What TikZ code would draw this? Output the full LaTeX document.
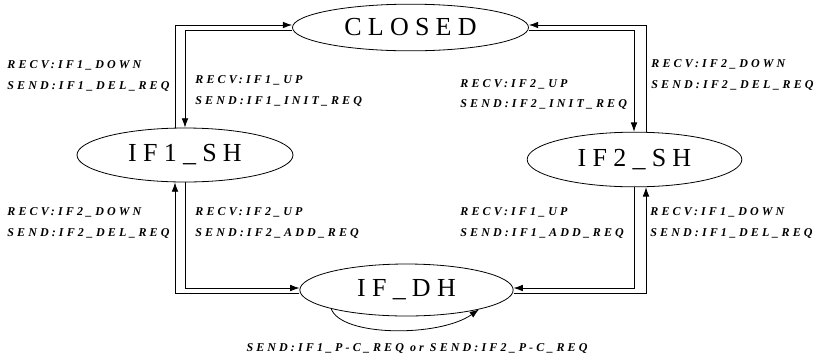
\documentclass[tikz,border=0pt]{standalone}
\usepackage{fontspec}
\setmainfont{Liberation Serif}
\newfontfamily\statefont[LetterSpace=24]{Liberation Serif}
\newfontfamily\msgfont[LetterSpace=26]{Liberation Serif}
\usetikzlibrary{shapes.geometric,arrows.meta}

\tikzstyle{state} = [draw,ellipse,inner sep=0pt,line width=0.6pt,font=\statefont\fontsize{19.5}{20}\selectfont]
\tikzstyle{msg} = [inner sep=0pt,align=left,anchor=west,font=\msgfont\bfseries\itshape\fontsize{9}{15.2}\selectfont]

\begin{document}
\begin{tikzpicture}[x=0.75pt,y=-0.75pt,>={Latex[length=7pt,width=5pt]},line width=0.6pt]
\useasboundingbox (0,0) rectangle (816,358);
\node[state,minimum width=177pt,minimum height=35pt] at (410.5,27.5) (closed) {CLOSED};
\node[state,minimum width=162pt,minimum height=40.5pt] at (185,155) (sh1) {IF1\_SH};
\node[state,minimum width=161pt,minimum height=41pt] at (634.5,159.5) (sh2) {IF2\_SH};
\node[state,minimum width=160pt,minimum height=39pt] at (406.5,290) (dh) {IF\_DH};
\coordinate (a1) at (175,25);
\coordinate (a2) at (185,30);
\coordinate (b1) at (646,25);
\coordinate (b2) at (634,30);
\coordinate (c1) at (175,293);
\coordinate (c2) at (185,288);
\coordinate (d1) at (646,293);
\coordinate (d2) at (634,288);
\draw [->] (a1 |- sh1.north) -- (a1) -- (closed.west |- a1);
\draw [->] (closed.west |- a2) -- (a2) -- (a2 |- sh1.north);
\draw [->] (closed.east |- b2) -- (b2) -- (b2 |- sh2.north);
\draw [->] (b1 |- sh2.north) -- (b1) -- (closed.east |- b1);
\draw [->] (c2 |- sh1.south) -- (c2) -- (dh.west |- c2);
\draw [->] (dh.west |- c1) -- (c1) -- (c1 |- sh1.south);
\draw [->] (d2 |- sh2.south) -- (d2) -- (dh.east |- d2);
\draw [->] (dh.east |- d1) -- (d1) -- (d1 |- sh2.south);
\draw [->] (dh.194) .. controls +(10,28) and +(-40,28) .. (dh.345);
\node[msg] at (7,76) (m1) {RECV:IF1\_DOWN\\SEND:IF1\_DEL\_REQ};
\node[msg] at (195,91) (m2) {RECV:IF1\_UP\\SEND:IF1\_INIT\_REQ};
\node[msg] at (460,94.5) (m3) {RECV:IF2\_UP\\SEND:IF2\_INIT\_REQ};
\node[msg] at (651,75) (m4) {RECV:IF2\_DOWN\\SEND:IF2\_DEL\_REQ};
\node[msg] at (7,223) (m5) {RECV:IF2\_DOWN\\SEND:IF2\_DEL\_REQ};
\node[msg] at (195,223) (m6) {RECV:IF2\_UP\\SEND:IF2\_ADD\_REQ};
\node[msg] at (460,223) (m7) {RECV:IF1\_UP\\SEND:IF1\_ADD\_REQ};
\node[msg] at (650,223) (m8) {RECV:IF1\_DOWN\\SEND:IF1\_DEL\_REQ};
\node[msg,anchor=center] at (417,348.5) (m9) {SEND:IF1\_P-C\_REQ or SEND:IF2\_P-C\_REQ};
\end{tikzpicture}
\end{document}
